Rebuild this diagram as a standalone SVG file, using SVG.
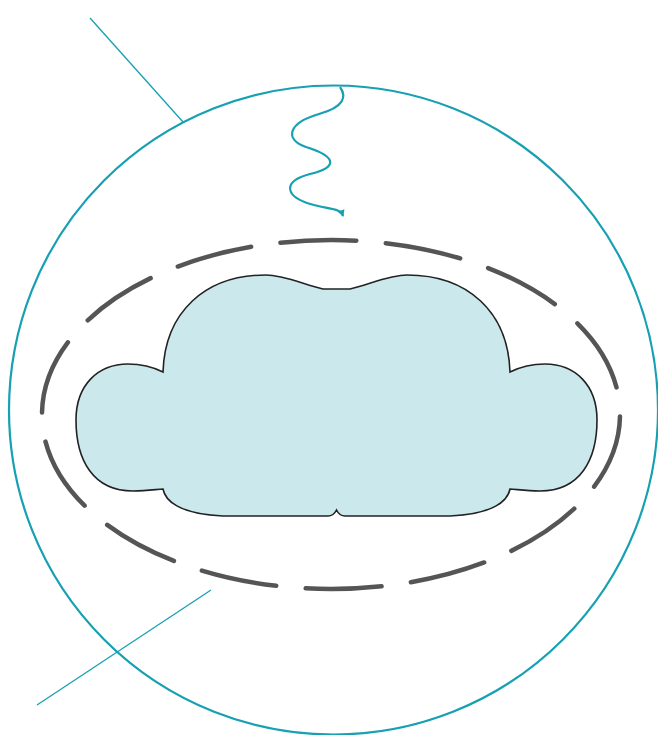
<svg xmlns="http://www.w3.org/2000/svg" width="658" height="735" viewBox="0 0 658 735">
<defs>
<style>
.teal{fill:none;stroke:#16a0b2}
.dash{fill:none;stroke:#555;stroke-width:4.5;stroke-linecap:round}
.cloud{fill:#cbe9ed;stroke:#222;stroke-width:1.6}
</style>
<marker id="ah" markerWidth="9" markerHeight="9" refX="6" refY="4" orient="auto" markerUnits="userSpaceOnUse">
<path d="M0,0.5 L7,4 L0,7.5 Z" fill="#16a0b2"/>
</marker>
</defs>
<g id="sphere"><circle class="teal" cx="333.5" cy="410" r="324.5" stroke-width="2.2"/></g>
<g id="envelope"><ellipse class="dash" cx="331" cy="414.5" rx="289" ry="174.5" pathLength="1400" stroke-dasharray="72 28" stroke-dashoffset="-2"/></g>
<g id="cloud"><path class="cloud" d="M323,289 L350,289 C370,284 390,275 407,275 C468,275 508,312 510,372 C520,367 530,364 545,364 C575,364 597,385 597,420 C597,460 580,491 540,491 C525,491 515,489 510,489 C508,500 495,514 450,516 L345,516 C340,516 338,513 336.5,510 C335,513 333,516 328,516 L223,516 C178,514 165,500 163,489 C158,489 148,491 133,491 C93,491 76,460 76,420 C76,385 98,364 128,364 C143,364 153,367 163,372 C165,312 205,275 266,275 C283,275 303,284 323,289 Z"/></g>
<g id="connectors">
<line class="teal" x1="90" y1="18" x2="183" y2="122" stroke-width="1.3"/>
<line class="teal" x1="37" y1="705" x2="211" y2="590" stroke-width="1.3"/>
<path class="teal" stroke-width="2.2" marker-end="url(#ah)" d="M340,87 C347,97 344,107 319,114 C288,123 284,139 306,147 C335,156 340,167 310,174 C283,181 285,195 307,203 C328,210 340,207 343,216"/>
</g>
</svg>
